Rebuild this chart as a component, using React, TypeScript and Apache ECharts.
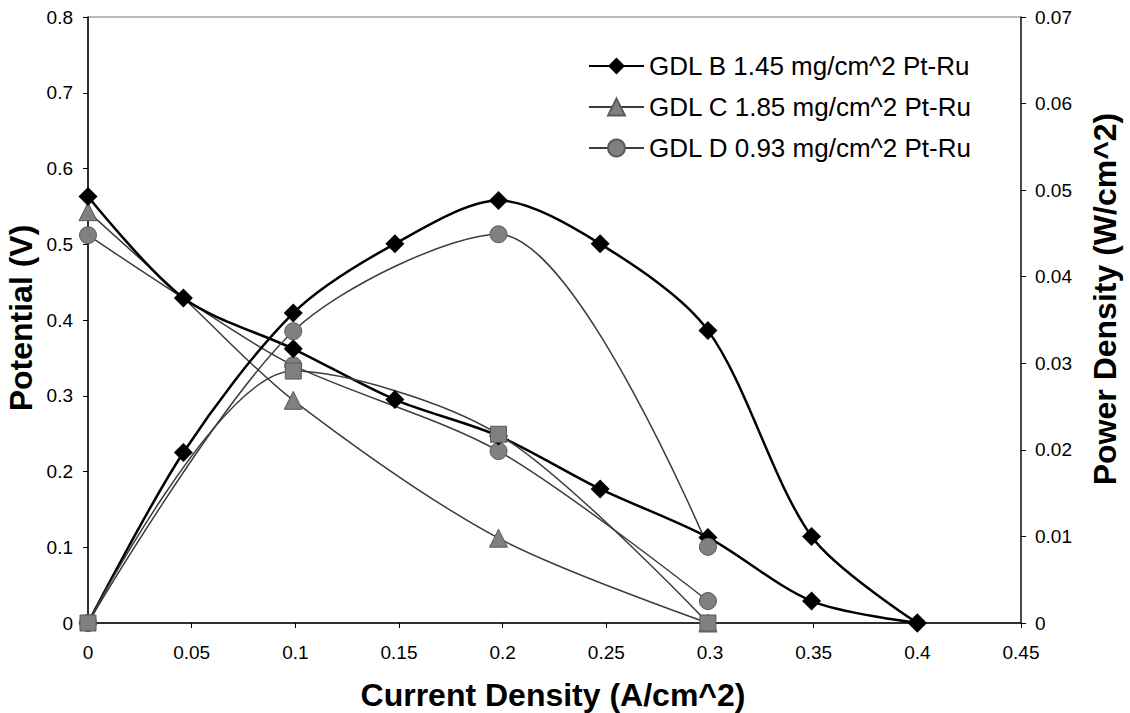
import React, { useEffect, useRef } from "react";
import * as echarts from "echarts";

const xB = [0, 0.046, 0.099, 0.148, 0.198, 0.247, 0.299, 0.349, 0.4];
const potB = [0.563, 0.429, 0.362, 0.295, 0.247, 0.177, 0.113, 0.029, 0];
const powB = [0, 0.0197, 0.0358, 0.0438, 0.0488, 0.0438, 0.0338, 0.01, 0];

const xCDpot = [0, 0.046, 0.099, 0.198, 0.299];
const potC = [0.543, 0.429, 0.294, 0.112, 0];
const potD = [0.512, 0.429, 0.34, 0.227, 0.029];

const xCDpow = [0, 0.099, 0.198, 0.299];
const powC = [0, 0.0291, 0.0218, 0];
const powD = [0, 0.0337, 0.0449, 0.0088];

const nameB = "GDL B 1.45 mg/cm^2 Pt-Ru";
const nameC = "GDL C 1.85 mg/cm^2 Pt-Ru";
const nameD = "GDL D 0.93 mg/cm^2 Pt-Ru";

const xTitle = "Current Density (A/cm^2)";
const yLeftTitle = "Potential (V)";
const yRightTitle = "Power Density (W/cm^2)";

const FONT = "'Liberation Sans', Arial, Helvetica, sans-serif";

// x value shared with GDL B, whose diamond covers the other markers there
const hiddenX = xB[1];

function pairs(xs: number[], ys: number[]) {
  return xs.map((x, i) => [x, ys[i]]);
}

function pairsHidden(xs: number[], ys: number[]) {
  return xs.map((x, i) =>
    x === hiddenX ? { value: [x, ys[i]], symbol: "none" } : { value: [x, ys[i]] }
  );
}

export default function App() {
  const ref = useRef<HTMLDivElement>(null);
  useEffect(() => {
    if (!ref.current) return;
    const chart = echarts.init(ref.current, null, { renderer: "svg" });
    const grayLine = "#3c3c3c";
    const grayMark = "#808080";
    const grayBorder = "#5a5a5a";
    const SM = 0.3;
    const axisLabel = { color: "#000", fontSize: 19, fontFamily: FONT };
    const option: any = {
      animation: false,
      backgroundColor: "#fff",
      grid: {
        left: 88,
        right: 109,
        top: 17,
        bottom: 90,
        show: true,
        borderColor: "#777",
        borderWidth: 1,
      },
      legend: {
        data: [nameB, nameC, nameD],
        orient: "vertical",
        left: 583,
        top: 48,
        itemWidth: 55,
        itemHeight: 21,
        itemGap: 15,
        textStyle: { fontSize: 26, lineHeight: 26, color: "#000", fontFamily: FONT },
      },
      xAxis: {
        type: "value",
        min: 0,
        max: 0.45,
        interval: 0.05,
        axisLine: { show: true, onZero: false, lineStyle: { color: "#000", width: 1.5 } },
        axisTick: { show: true, length: 5, lineStyle: { color: "#000" } },
        splitLine: { show: false },
        axisLabel: { ...axisLabel, margin: 20 },
      },
      yAxis: [
        {
          type: "value",
          min: 0,
          max: 0.8,
          interval: 0.1,
          position: "left",
          axisLine: { show: true, onZero: false, lineStyle: { color: "#000", width: 1.5 } },
          axisTick: { show: true, length: 5, lineStyle: { color: "#000" } },
          splitLine: { show: false },
          axisLabel: { ...axisLabel, margin: 15 },
        },
        {
          type: "value",
          min: 0,
          max: 0.07,
          interval: 0.01,
          position: "right",
          axisLine: { show: true, onZero: false, lineStyle: { color: "#222", width: 1.5 } },
          axisTick: { show: true, length: 5, lineStyle: { color: "#000" } },
          splitLine: { show: false },
          axisLabel: { ...axisLabel, margin: 14 },
        },
      ],
      graphic: [
        {
          type: "text",
          x: 553,
          y: 695,
          style: {
            text: xTitle,
            font: `bold 32px ${FONT}`,
            fill: "#000",
            textAlign: "center",
            textVerticalAlign: "middle",
          },
        },
        {
          type: "text",
          x: 21,
          y: 318,
          rotation: Math.PI / 2,
          style: {
            text: yLeftTitle,
            font: `bold 32px ${FONT}`,
            fill: "#000",
            textAlign: "center",
            textVerticalAlign: "middle",
          },
        },
        {
          type: "text",
          x: 1105,
          y: 299,
          rotation: Math.PI / 2,
          style: {
            text: yRightTitle,
            font: `bold 32px ${FONT}`,
            fill: "#000",
            textAlign: "center",
            textVerticalAlign: "middle",
          },
        },
      ],
      series: [
        {
          name: nameC,
          type: "line",
          yAxisIndex: 0,
          smooth: SM,
          data: pairsHidden(xCDpot, potC),
          symbol: "triangle",
          symbolSize: 18,
          lineStyle: { color: grayLine, width: 1.5 },
          itemStyle: { color: grayMark, borderColor: grayBorder, borderWidth: 1 },
        },
        {
          name: nameD,
          type: "line",
          yAxisIndex: 0,
          smooth: SM,
          data: pairsHidden(xCDpot, potD),
          symbol: "circle",
          symbolSize: 17,
          lineStyle: { color: grayLine, width: 1.5 },
          itemStyle: { color: grayMark, borderColor: grayBorder, borderWidth: 1 },
        },
        {
          name: "B power",
          type: "line",
          yAxisIndex: 1,
          smooth: SM,
          data: pairs(xB, powB),
          symbol: "diamond",
          symbolSize: 19,
          lineStyle: { color: "#000", width: 2.5 },
          itemStyle: { color: "#000" },
        },
        {
          name: nameB,
          type: "line",
          yAxisIndex: 0,
          smooth: SM,
          data: pairs(xB, potB),
          symbol: "diamond",
          symbolSize: 19,
          lineStyle: { color: "#000", width: 2.5 },
          itemStyle: { color: "#000" },
        },
        {
          name: "D power",
          type: "line",
          yAxisIndex: 1,
          smooth: SM,
          data: pairs(xCDpow, powD),
          symbol: "circle",
          symbolSize: 17,
          lineStyle: { color: grayLine, width: 1.5 },
          itemStyle: { color: grayMark, borderColor: grayBorder, borderWidth: 1 },
        },
        {
          name: "C power",
          type: "line",
          yAxisIndex: 1,
          smooth: SM,
          data: pairs(xCDpow, powC),
          symbol: "rect",
          symbolSize: 16,
          lineStyle: { color: grayLine, width: 1.5 },
          itemStyle: { color: grayMark, borderColor: grayBorder, borderWidth: 1 },
        },
      ],
    };
    chart.setOption(option);
    return () => chart.dispose();
  }, []);
  return (
    <div
      ref={ref}
      style={{ position: "fixed", left: 0, top: 0, width: 1130, height: 713, background: "#fff" }}
    />
  );
}
